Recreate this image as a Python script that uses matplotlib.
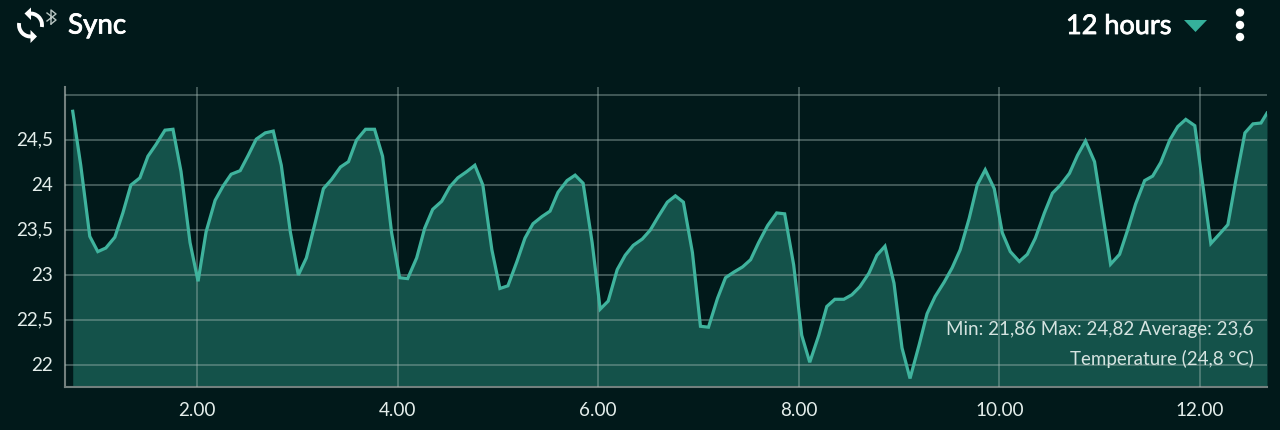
import matplotlib
matplotlib.use('Agg')
import matplotlib.pyplot as plt
import matplotlib.patheffects as pe
import matplotlib.transforms as mtrans
from matplotlib.patches import Arc, Polygon, Circle

plt.rcParams['font.family'] = ['Lato', 'DejaVu Sans']

BG = '#01191a'
LINE = '#3fb39d'
FILL = '#14524a'
GRID = '#a3bab4'
TEXT = '#e4eeeb'

# hours on the x axis
hours = [
    0.76, 0.84, 0.93, 1.01, 1.09, 1.18, 1.26, 1.34, 1.43, 1.51, 1.59, 1.68,
    1.76, 1.84, 1.93, 2.01, 2.09, 2.18, 2.26, 2.34, 2.43, 2.51, 2.59, 2.68,
    2.76, 2.84, 2.93, 3.01, 3.09, 3.18, 3.26, 3.34, 3.43, 3.51, 3.59, 3.68,
    3.77, 3.85, 3.94, 4.02, 4.10, 4.19, 4.27, 4.35, 4.44, 4.52, 4.60, 4.69,
    4.77, 4.85, 4.94, 5.02, 5.10, 5.19, 5.27, 5.35, 5.44, 5.52, 5.60, 5.69,
    5.77, 5.85, 5.94, 6.02, 6.10, 6.19, 6.27, 6.35, 6.44, 6.52, 6.60, 6.69,
    6.77, 6.85, 6.94, 7.02, 7.10, 7.19, 7.27, 7.35, 7.44, 7.52, 7.60, 7.69,
    7.78, 7.86, 7.95, 8.03, 8.11, 8.20, 8.28, 8.36, 8.45, 8.53, 8.61, 8.70,
    8.78, 8.86, 8.95, 9.03, 9.11, 9.20, 9.28, 9.36, 9.45, 9.53, 9.61, 9.70,
    9.78, 9.86, 9.95, 10.03, 10.11, 10.20, 10.28, 10.36, 10.45, 10.53, 10.61, 10.70,
    10.78, 10.86, 10.95, 11.03, 11.11, 11.20, 11.28, 11.36, 11.45, 11.53, 11.61, 11.70,
    11.78, 11.86, 11.95, 12.03, 12.11, 12.20, 12.28, 12.36, 12.45, 12.53, 12.61, 12.67,
]
temperature = [
    24.82, 24.22, 23.43, 23.26, 23.30, 23.42, 23.69, 24.00, 24.08, 24.32, 24.45, 24.61,
    24.62, 24.15, 23.36, 22.93, 23.48, 23.83, 23.99, 24.12, 24.16, 24.33, 24.51, 24.58,
    24.60, 24.22, 23.48, 23.00, 23.19, 23.59, 23.96, 24.06, 24.20, 24.26, 24.50, 24.62,
    24.62, 24.32, 23.47, 22.97, 22.96, 23.19, 23.52, 23.73, 23.82, 23.98, 24.08, 24.15,
    24.22, 24.00, 23.28, 22.85, 22.88, 23.15, 23.41, 23.57, 23.65, 23.71, 23.92, 24.05,
    24.11, 24.02, 23.36, 22.62, 22.71, 23.06, 23.22, 23.33, 23.40, 23.50, 23.65, 23.81,
    23.88, 23.81, 23.25, 22.43, 22.42, 22.74, 22.97, 23.03, 23.09, 23.17, 23.36, 23.55,
    23.69, 23.68, 23.11, 22.33, 22.03, 22.33, 22.65, 22.73, 22.73, 22.78, 22.87, 23.02,
    23.22, 23.32, 22.91, 22.19, 21.85, 22.22, 22.57, 22.76, 22.92, 23.08, 23.28, 23.63,
    24.00, 24.17, 23.96, 23.47, 23.26, 23.15, 23.23, 23.41, 23.69, 23.91, 24.00, 24.13,
    24.33, 24.49, 24.26, 23.69, 23.12, 23.23, 23.50, 23.79, 24.05, 24.10, 24.25, 24.50,
    24.65, 24.73, 24.66, 24.00, 23.35, 23.46, 23.56, 24.06, 24.58, 24.68, 24.69, 24.80,
]
y_ticks = [22, 22.5, 23, 23.5, 24, 24.5, 25]
y_labels = ['22', '22,5', '23', '23,5', '24', '24,5', '']
x_ticks = [2, 4, 6, 8, 10, 12]
x_labels = ['2.00', '4.00', '6.00', '8.00', '10.00', '12.00']


def draw_header(fig):
    # overlay in pixel coordinates for the app bar and its icons
    ov = fig.add_axes([0, 0, 1, 1], zorder=5)
    ov.set_xlim(0, 1280)
    ov.set_ylim(430, 0)
    ov.axis('off')

    # Lato has no medium weight here, a thin stroke thickens the regular one
    thicker = [pe.withStroke(linewidth=0.6, foreground='white')]
    ov.text(68, 25.5, 'Sync', color='white', fontsize=20, va='center', ha='left', path_effects=thicker)
    ov.text(1066, 26.5, '12 hours', color='white', fontsize=19.5, va='center', ha='left', path_effects=thicker)

    # sync icon
    ov.add_patch(Arc((30.5, 25), 23, 23, theta1=260, theta2=370, color='white', lw=2.8))
    ov.add_patch(Arc((30.5, 25), 23, 23, theta1=80, theta2=190, color='white', lw=2.8))
    ov.add_patch(Polygon([[24.5, 13.5], [31, 7.5], [31, 20]], color='white', lw=0))
    ov.add_patch(Polygon([[37, 36.5], [30.5, 30], [30.5, 43]], color='white', lw=0))

    # bluetooth mark
    ov.plot([51, 51, 56, 47], [24, 10, 14, 21], color='#b9c6c3', lw=1)
    ov.plot([47, 56, 51], [13, 20, 24], color='#b9c6c3', lw=1)

    # dropdown arrow and menu dots
    ov.add_patch(Polygon([[1184, 20], [1207, 20], [1195.5, 32]], color='#35b09b', lw=0))
    for cy in [12.5, 25, 37]:
        ov.add_patch(Circle((1240, cy), 4.2, color='white', lw=0))


fig = plt.figure(figsize=(12.8, 4.3), dpi=100, facecolor=BG)
ax = fig.add_axes([64.5 / 1280, 1 - 387 / 430, (1267 - 64.5) / 1280, (387 - 87) / 430])
ax.set_facecolor(BG)

ax.fill_between(hours, temperature, 21.755, color=FILL, lw=0, zorder=1)
ax.plot(hours, temperature, color=LINE, lw=2.3, solid_joinstyle='miter', zorder=3)

ax.set_xlim(0.678, 12.67)
ax.set_ylim(21.755, 25.09)
ax.set_xticks(x_ticks)
ax.set_xticklabels(x_labels)
ax.set_yticks(y_ticks)
ax.set_yticklabels(y_labels)
ax.tick_params(length=0, labelsize=13.6, labelcolor=TEXT)
ax.tick_params(axis='x', pad=11)
ax.tick_params(axis='y', pad=8)

# y labels sit a pixel higher than matplotlib centres them
up = mtrans.ScaledTranslation(0, 1.3 / 100, fig.dpi_scale_trans)
for label in ax.get_yticklabels():
    label.set_transform(label.get_transform() + up)

ax.grid(True, color=GRID, lw=1.1, alpha=0.5, zorder=2)
ax.set_axisbelow(False)

for side in ['top', 'right']:
    ax.spines[side].set_visible(False)
for side in ['left', 'bottom']:
    ax.spines[side].set_color('#73807e')
    ax.spines[side].set_linewidth(1.5)

fig.text(1254 / 1280, 1 - 329 / 430, 'Min: 21,86 Max: 24,82 Average: 23,6', color='#d5e3e0',
         fontsize=13.5, ha='right', va='center', zorder=6)
fig.text(1254 / 1280, 1 - 359 / 430, 'Temperature (24,8 °C)', color='#d5e3e0',
         fontsize=13.5, ha='right', va='center', zorder=6)

draw_header(fig)

fig.savefig('out.png', dpi=100, facecolor=BG)
